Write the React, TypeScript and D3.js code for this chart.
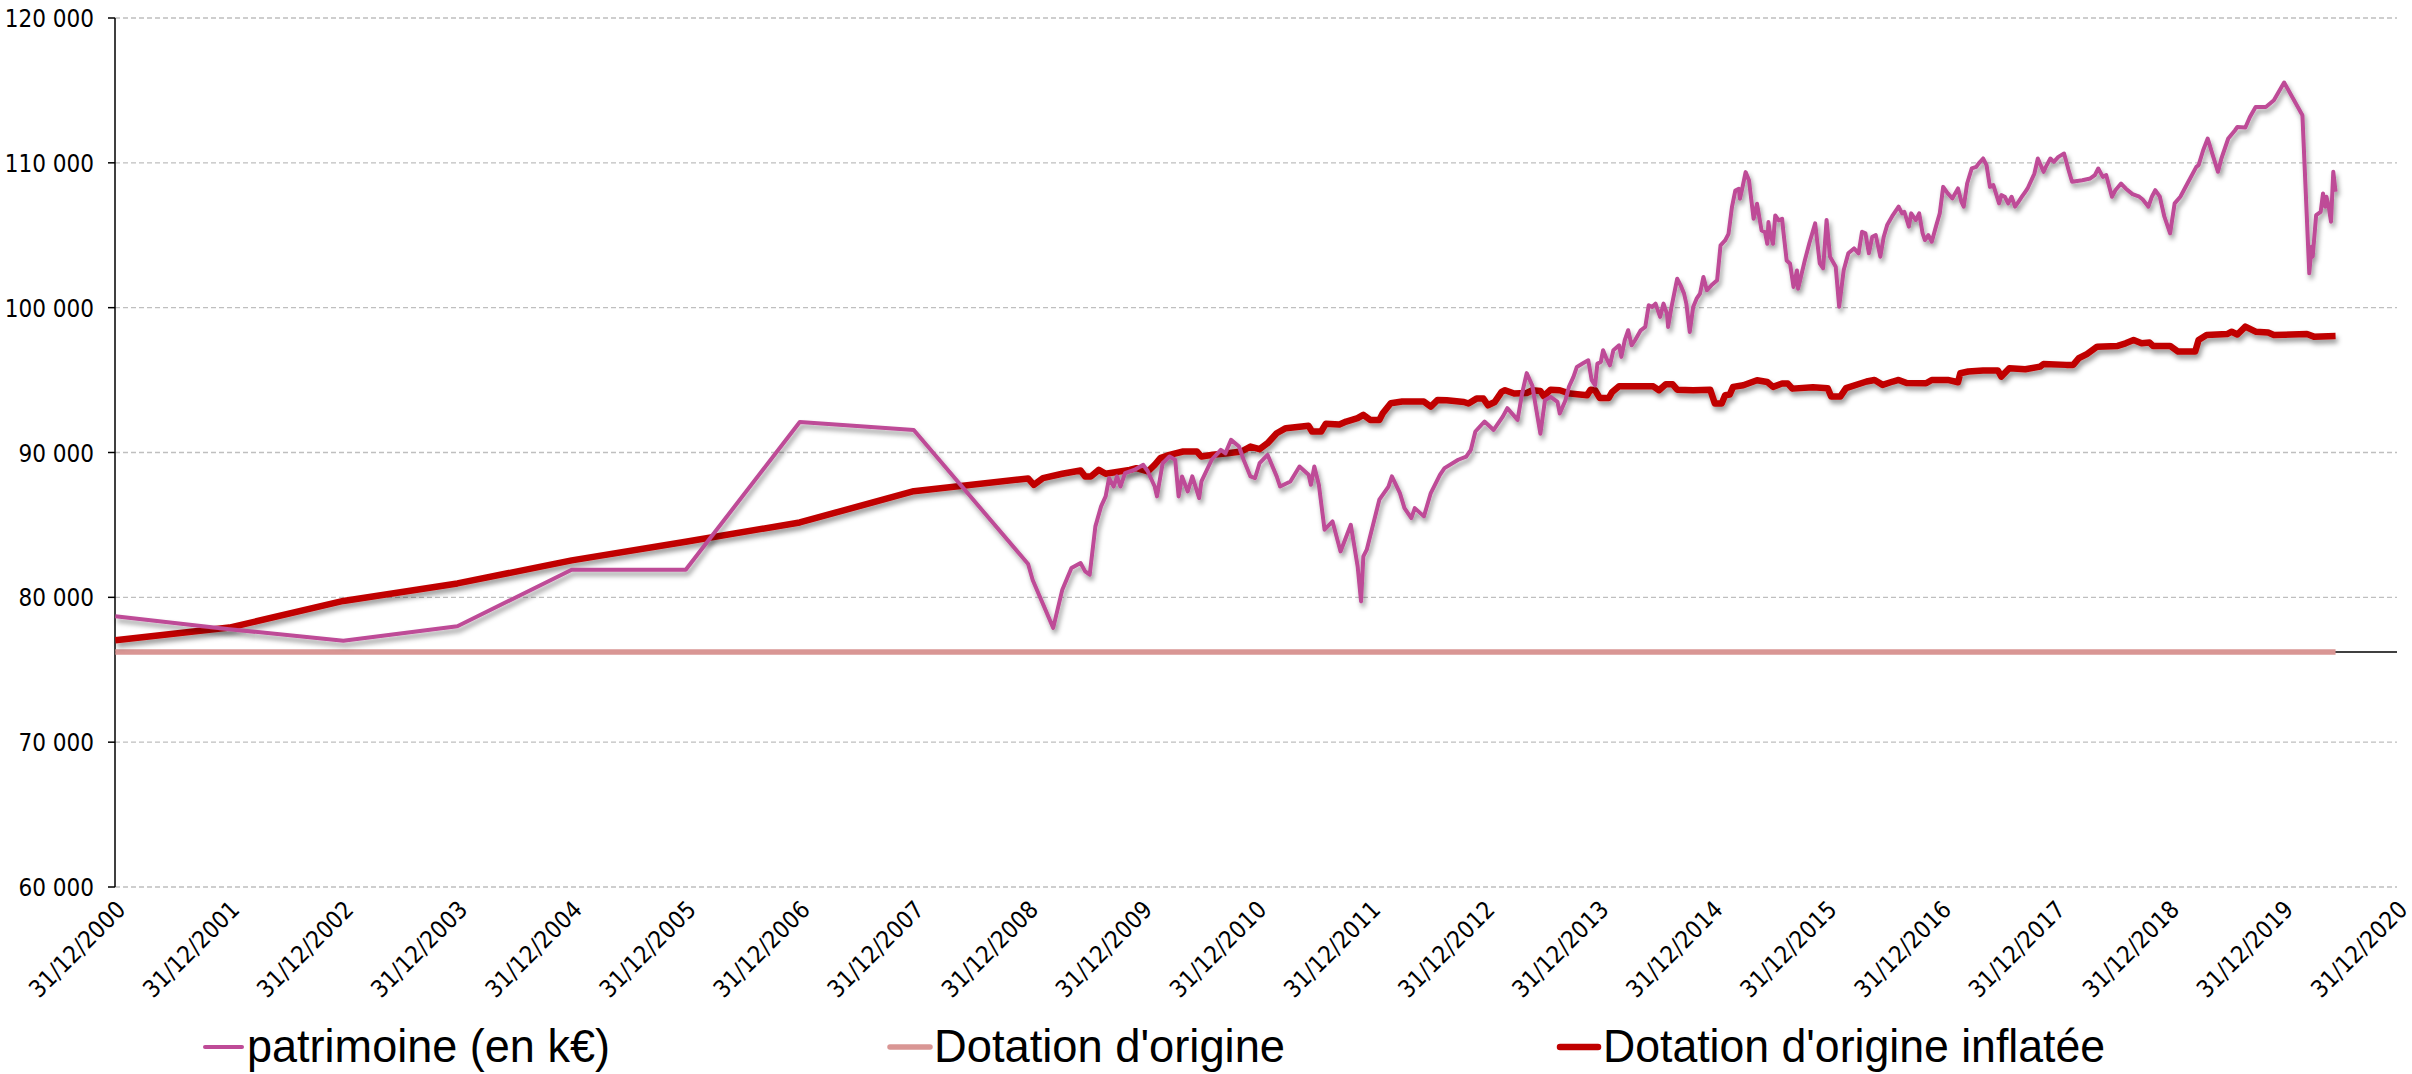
import React, { useEffect, useRef } from 'react';
import * as d3 from 'd3';

// decimal year (2001.0 = 31/12/2000) -> value
const patrimoine: [number, number][] = [
  [2001.00, 78700], [2002.00, 77800], [2003.00, 77000], [2004.00, 78000], [2005.00, 81900],
  [2006.00, 81900], [2007.00, 92100], [2008.00, 91550], [2009.00, 82300], [2009.04, 81200],
  [2009.22, 77890], [2009.30, 80530], [2009.38, 82020], [2009.46, 82370], [2009.50, 81790],
  [2009.54, 81560], [2009.59, 84900], [2009.64, 86280], [2009.68, 86970], [2009.71, 88230],
  [2009.75, 87650], [2009.78, 88350], [2009.81, 87650], [2009.85, 88570], [2009.93, 88800],
  [2010.01, 89150], [2010.05, 88690], [2010.11, 87650], [2010.13, 86970], [2010.18, 89260],
  [2010.24, 89720], [2010.29, 89500], [2010.32, 86970], [2010.35, 88350], [2010.40, 87310],
  [2010.44, 88350], [2010.50, 86850], [2010.52, 88000], [2010.61, 89500], [2010.69, 90180],
  [2010.73, 89950], [2010.78, 90870], [2010.85, 90410], [2010.89, 89500], [2010.95, 88350],
  [2010.99, 88230], [2011.03, 89260], [2011.10, 89840], [2011.18, 88350], [2011.21, 87650],
  [2011.30, 88000], [2011.38, 89030], [2011.46, 88460], [2011.48, 87770], [2011.51, 89030],
  [2011.55, 87770], [2011.60, 84670], [2011.67, 85240], [2011.74, 83170], [2011.83, 85010],
  [2011.89, 82140], [2011.92, 79720], [2011.94, 82830], [2011.97, 83290], [2012.04, 85470],
  [2012.08, 86740], [2012.16, 87650], [2012.19, 88350], [2012.26, 87200], [2012.30, 86160],
  [2012.36, 85470], [2012.39, 86160], [2012.47, 85590], [2012.53, 87200], [2012.61, 88460],
  [2012.65, 88920], [2012.77, 89500], [2012.84, 89720], [2012.88, 90180], [2012.92, 91450],
  [2013.00, 92140], [2013.08, 91560], [2013.16, 92480], [2013.20, 93060], [2013.29, 92250],
  [2013.33, 94090], [2013.37, 95480], [2013.42, 94600], [2013.45, 93150], [2013.49, 91300],
  [2013.53, 93610], [2013.58, 93840], [2013.64, 93490], [2013.66, 92690], [2013.71, 93610],
  [2013.74, 94530], [2013.78, 95220], [2013.81, 95910], [2013.86, 96140], [2013.91, 96370],
  [2013.94, 94990], [2013.97, 94640], [2013.99, 96140], [2014.02, 96250], [2014.04, 97060],
  [2014.07, 96480], [2014.10, 96020], [2014.13, 97060], [2014.18, 97400], [2014.20, 96600],
  [2014.23, 97750], [2014.26, 98440], [2014.29, 97400], [2014.32, 97750], [2014.37, 98440],
  [2014.41, 98670], [2014.44, 100160], [2014.47, 100050], [2014.50, 100280], [2014.52, 99820],
  [2014.54, 99360], [2014.57, 100280], [2014.60, 99590], [2014.61, 98670], [2014.64, 100050],
  [2014.69, 102000], [2014.72, 101540], [2014.75, 100970], [2014.77, 100280], [2014.80, 98320],
  [2014.83, 100050], [2014.86, 100620], [2014.89, 100970], [2014.92, 102120], [2014.95, 101200],
  [2014.99, 101540], [2015.04, 101890], [2015.07, 104300], [2015.11, 104640], [2015.14, 105100],
  [2015.17, 106940], [2015.20, 108090], [2015.23, 108210], [2015.24, 107520], [2015.26, 108210],
  [2015.29, 109360], [2015.32, 108780], [2015.33, 108090], [2015.36, 106140], [2015.39, 107170],
  [2015.43, 105330], [2015.46, 105220], [2015.48, 104410], [2015.49, 105910], [2015.50, 105330],
  [2015.53, 104410], [2015.55, 106370], [2015.58, 106020], [2015.61, 106140], [2015.62, 105330],
  [2015.65, 103260], [2015.68, 103030], [2015.71, 101430], [2015.74, 102570], [2015.75, 101310],
  [2015.81, 103290], [2015.85, 104480], [2015.90, 105820], [2015.92, 104440], [2015.94, 103060],
  [2015.97, 102710], [2016.00, 106050], [2016.03, 103520], [2016.08, 102830], [2016.11, 100070],
  [2016.15, 102600], [2016.19, 103750], [2016.24, 104090], [2016.28, 103750], [2016.31, 105240],
  [2016.34, 105130], [2016.37, 103750], [2016.40, 104900], [2016.43, 105010], [2016.47, 103520],
  [2016.50, 104900], [2016.53, 105700], [2016.58, 106390], [2016.63, 106970], [2016.66, 106510],
  [2016.68, 106620], [2016.72, 105590], [2016.74, 106510], [2016.78, 106050], [2016.81, 106510],
  [2016.84, 105130], [2016.86, 104670], [2016.89, 105010], [2016.92, 104550], [2016.96, 105700],
  [2016.99, 106510], [2017.02, 108340], [2017.06, 107890], [2017.10, 107540], [2017.15, 108230],
  [2017.18, 107310], [2017.20, 106970], [2017.23, 108570], [2017.27, 109610], [2017.31, 109720],
  [2017.33, 109950], [2017.37, 110300], [2017.40, 109840], [2017.43, 108340], [2017.46, 108460],
  [2017.51, 107200], [2017.53, 107770], [2017.56, 107660], [2017.59, 107200], [2017.62, 107660],
  [2017.65, 106970], [2017.68, 107310], [2017.71, 107660], [2017.74, 108000], [2017.76, 108230],
  [2017.82, 109260], [2017.85, 110300], [2017.90, 109380], [2017.92, 109720], [2017.96, 110300],
  [2017.99, 110070], [2018.03, 110410], [2018.08, 110640], [2018.12, 109490], [2018.15, 108690],
  [2018.24, 108800], [2018.31, 108920], [2018.35, 109150], [2018.38, 109610], [2018.42, 109030],
  [2018.45, 109150], [2018.50, 107660], [2018.53, 108110], [2018.58, 108570], [2018.62, 108230],
  [2018.68, 107840], [2018.74, 107660], [2018.77, 107470], [2018.82, 106970], [2018.85, 107660],
  [2018.88, 108110], [2018.92, 107660], [2018.96, 106280], [2019.01, 105130], [2019.05, 107200],
  [2019.10, 107660], [2019.17, 108690], [2019.24, 109720], [2019.26, 109840], [2019.30, 110870],
  [2019.34, 111680], [2019.38, 110640], [2019.43, 109380], [2019.46, 110300], [2019.52, 111680],
  [2019.58, 112250], [2019.60, 112480], [2019.67, 112440], [2019.71, 113170], [2019.76, 113860],
  [2019.85, 113860], [2019.92, 114320], [2020.01, 115540], [2020.17, 113290], [2020.23, 102370],
  [2020.25, 104210], [2020.26, 103520], [2020.29, 106390], [2020.33, 106620], [2020.35, 107890],
  [2020.37, 106970], [2020.38, 107660], [2020.40, 106970], [2020.42, 105930], [2020.44, 109380],
  [2020.46, 108000],
];

const dotationInflatee: [number, number][] = [
  [2001.00, 77040], [2002.00, 77910], [2003.00, 79750], [2004.00, 80960], [2005.00, 82550],
  [2006.00, 83840], [2007.00, 85170], [2008.00, 87330], [2009.00, 88210], [2009.05, 87770],
  [2009.13, 88230], [2009.30, 88530], [2009.46, 88760], [2009.50, 88350], [2009.55, 88350],
  [2009.62, 88800], [2009.68, 88530], [2009.89, 88800], [2009.95, 88920], [2010.05, 88690],
  [2010.11, 89150], [2010.16, 89610], [2010.24, 89840], [2010.36, 90070], [2010.48, 90070],
  [2010.52, 89720], [2010.62, 89840], [2010.75, 89950], [2010.87, 90070], [2010.95, 90410],
  [2011.03, 90230], [2011.10, 90640], [2011.18, 91330], [2011.26, 91680], [2011.46, 91840],
  [2011.49, 91450], [2011.57, 91450], [2011.61, 91980], [2011.73, 91930], [2011.79, 92140],
  [2011.89, 92370], [2011.94, 92600], [2012.00, 92250], [2012.08, 92250], [2012.11, 92710],
  [2012.18, 93400], [2012.28, 93520], [2012.47, 93520], [2012.53, 93170], [2012.59, 93630],
  [2012.67, 93610], [2012.82, 93490], [2012.86, 93380], [2012.93, 93720], [2012.99, 93720],
  [2013.03, 93260], [2013.09, 93490], [2013.15, 94180], [2013.18, 94300], [2013.26, 94070],
  [2013.37, 94110], [2013.42, 94300], [2013.49, 94250], [2013.52, 93890], [2013.58, 94340],
  [2013.66, 94300], [2013.75, 94070], [2013.90, 93950], [2013.93, 94340], [2013.97, 94300],
  [2014.01, 93770], [2014.09, 93770], [2014.12, 94180], [2014.18, 94570], [2014.48, 94570],
  [2014.53, 94300], [2014.59, 94710], [2014.65, 94710], [2014.69, 94340], [2014.83, 94300],
  [2014.98, 94340], [2015.02, 93380], [2015.08, 93380], [2015.11, 93950], [2015.15, 94000],
  [2015.18, 94530], [2015.27, 94640], [2015.39, 94990], [2015.48, 94870], [2015.53, 94530],
  [2015.61, 94760], [2015.66, 94760], [2015.70, 94410], [2015.88, 94510], [2016.01, 94440],
  [2016.04, 93860], [2016.12, 93860], [2016.17, 94440], [2016.35, 94900], [2016.42, 95010],
  [2016.49, 94670], [2016.58, 94900], [2016.63, 95010], [2016.70, 94800], [2016.87, 94780],
  [2016.92, 95010], [2017.06, 95010], [2017.15, 94850], [2017.17, 95470], [2017.24, 95590],
  [2017.37, 95660], [2017.50, 95660], [2017.53, 95240], [2017.60, 95820], [2017.74, 95750],
  [2017.87, 95930], [2017.90, 96110], [2018.10, 96050], [2018.16, 96050], [2018.21, 96510],
  [2018.28, 96800], [2018.37, 97310], [2018.55, 97360], [2018.62, 97540], [2018.69, 97770],
  [2018.76, 97540], [2018.83, 97590], [2018.86, 97360], [2019.01, 97360], [2019.08, 96970],
  [2019.23, 96970], [2019.26, 97770], [2019.33, 98110], [2019.51, 98180], [2019.55, 98340],
  [2019.60, 98150], [2019.67, 98690], [2019.76, 98340], [2019.87, 98280], [2019.92, 98110],
  [2020.21, 98180], [2020.27, 98000], [2020.46, 98050],
];

const dotationOrigine: [number, number][] = [[2001.00, 76225], [2020.46, 76225]];

const yTicks = [60000, 70000, 80000, 90000, 100000, 110000, 120000];
const xTickYears = d3.range(2000, 2021);
const legendLabels = ['patrimoine (en k€)', "Dotation d'origine", "Dotation d'origine inflatée"];

const decToDate = (y: number) => {
  const yr = Math.floor(y);
  const a = new Date(yr, 0, 1).getTime();
  const b = new Date(yr + 1, 0, 1).getTime();
  return new Date(a + (y - yr) * (b - a));
};

const App: React.FC = () => {
  const svgRef = useRef<SVGSVGElement>(null);

  useEffect(() => {
    if (!svgRef.current) return;
    const svg = d3.select(svgRef.current);
    svg.selectAll('*').remove();

    const W = 2412, H = 1074;
    const left = 115, right = 2397, top = 18, bottom = 887;

    const x = d3.scaleTime()
      .domain([new Date(2000, 11, 31), new Date(2020, 11, 31)])
      .range([left, right]);
    const y = d3.scaleLinear().domain([60000, 120000]).range([bottom, top]);

    const defs = svg.append('defs');
    const f = defs.append('filter').attr('id', 'shadow')
      .attr('x', '-2%').attr('y', '-5%').attr('width', '104%').attr('height', '115%');
    f.append('feDropShadow')
      .attr('dx', 2).attr('dy', 4).attr('stdDeviation', 2.5)
      .attr('flood-color', '#000').attr('flood-opacity', 0.4);

    svg.append('rect').attr('width', W).attr('height', H).attr('fill', 'white');

    const tickFont = "'DejaVu Sans Condensed', 'DejaVu Sans', sans-serif";

    // gridlines
    svg.append('g').selectAll('line')
      .data(yTicks)
      .join('line')
      .attr('x1', left).attr('x2', right)
      .attr('y1', d => y(d)).attr('y2', d => y(d))
      .attr('stroke', '#bfbfbf').attr('stroke-width', 1.3)
      .attr('stroke-dasharray', '5,3');

    // y axis
    svg.append('line')
      .attr('x1', left).attr('x2', left).attr('y1', top).attr('y2', bottom)
      .attr('stroke', 'black').attr('stroke-width', 1.5);
    svg.append('g').selectAll('line')
      .data(yTicks)
      .join('line')
      .attr('x1', left - 7).attr('x2', left)
      .attr('y1', d => y(d)).attr('y2', d => y(d))
      .attr('stroke', 'black').attr('stroke-width', 1.5);
    svg.append('g').selectAll('text')
      .data(yTicks)
      .join('text')
      .attr('x', 94).attr('y', d => y(d) + 1)
      .attr('text-anchor', 'end').attr('dominant-baseline', 'central')
      .attr('font-family', tickFont).attr('font-stretch', 'condensed')
      .attr('font-size', 24).attr('fill', '#000')
      .text(d => d3.format(',')(d).replace(',', ' '));

    // x axis crosses at the original endowment
    svg.append('line')
      .attr('x1', left).attr('x2', right)
      .attr('y1', y(76225)).attr('y2', y(76225))
      .attr('stroke', 'black').attr('stroke-width', 1.5);

    svg.append('g').selectAll('text')
      .data(xTickYears)
      .join('text')
      .attr('transform', d => `translate(${x(new Date(d, 11, 31)) + 12},${bottom + 24}) rotate(-45)`)
      .attr('text-anchor', 'end')
      .attr('font-family', tickFont).attr('font-stretch', 'condensed')
      .attr('font-size', 24).attr('fill', '#000')
      .text(d => `31/12/${d}`);

    const line = d3.line<[number, number]>()
      .x(d => x(decToDate(d[0])))
      .y(d => y(d[1]));

    svg.append('path')
      .datum(dotationOrigine)
      .attr('d', line)
      .attr('fill', 'none').attr('stroke', '#d99694').attr('stroke-width', 5.5);

    svg.append('path')
      .datum(dotationInflatee)
      .attr('d', line)
      .attr('fill', 'none').attr('stroke', '#c00000').attr('stroke-width', 6.5)
      .attr('stroke-linejoin', 'round').attr('filter', 'url(#shadow)');

    svg.append('path')
      .datum(patrimoine)
      .attr('d', line)
      .attr('fill', 'none').attr('stroke', '#be4b97').attr('stroke-width', 4)
      .attr('stroke-linejoin', 'round').attr('filter', 'url(#shadow)');

    // legend
    const legend = [
      { label: legendLabels[0], color: '#be4b97', width: 4, x1: 205, x2: 242, tx: 247, tl: 363 },
      { label: legendLabels[1], color: '#d99694', width: 5.5, x1: 890, x2: 930, tx: 934, tl: 351 },
      { label: legendLabels[2], color: '#c00000', width: 6.5, x1: 1560, x2: 1598, tx: 1603, tl: 502 },
    ];
    const lg = svg.append('g');
    legend.forEach(l => {
      lg.append('line')
        .attr('x1', l.x1).attr('x2', l.x2).attr('y1', 1047).attr('y2', 1047)
        .attr('stroke', l.color).attr('stroke-width', l.width).attr('stroke-linecap', 'round');
      lg.append('text')
        .attr('x', l.tx).attr('y', 1062)
        .attr('font-family', "'Liberation Sans', Arial, sans-serif")
        .attr('font-size', 47).attr('fill', '#000')
        .attr('textLength', l.tl).attr('lengthAdjust', 'spacingAndGlyphs')
        .text(l.label);
    });
  }, []);

  return (
    <div style={{ position: 'absolute', left: 0, top: 0 }}>
      <svg ref={svgRef} width={2412} height={1074} viewBox="0 0 2412 1074" style={{ display: 'block' }} />
    </div>
  );
};

export default App;
